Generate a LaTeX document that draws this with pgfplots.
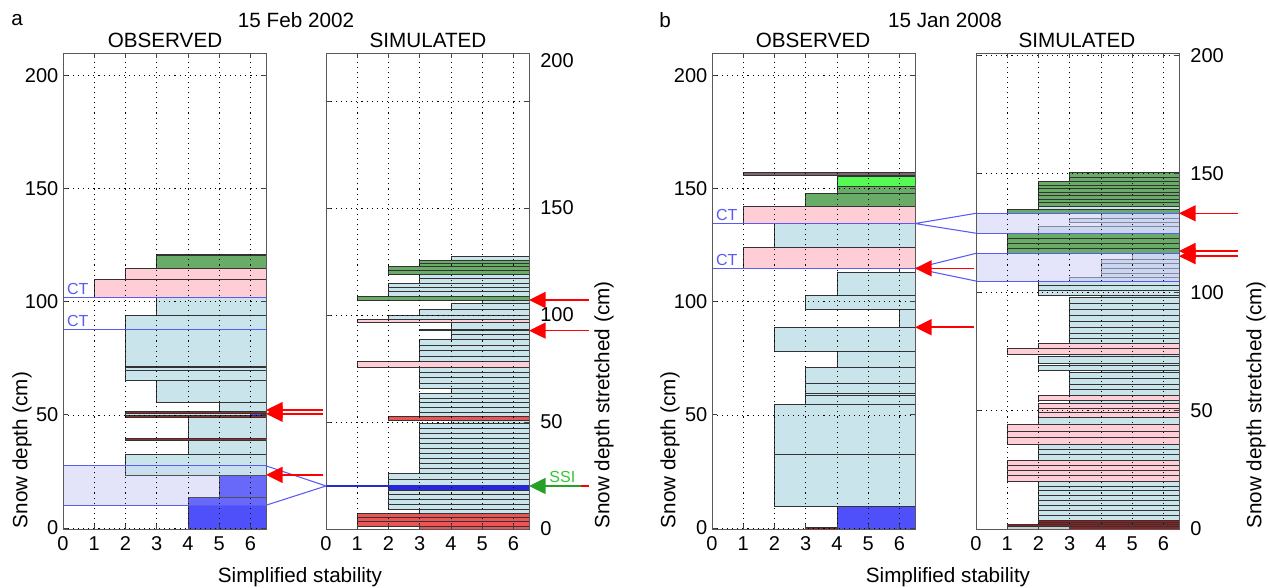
\documentclass[border=0pt]{standalone}
\usepackage{fontspec}
\setmainfont{Liberation Sans}
\usepackage{pgfplots}
\pgfplotsset{compat=1.18}
\usetikzlibrary{arrows.meta}

\definecolor{lb}{RGB}{201,228,235}
\definecolor{pk}{RGB}{255,205,214}
\definecolor{gr}{RGB}{104,172,104}
\definecolor{bg}{RGB}{85,250,85}
\definecolor{bl}{RGB}{80,80,250}
\definecolor{sb}{RGB}{40,40,215}
\definecolor{dkr}{RGB}{150,45,45}
\definecolor{rd}{RGB}{235,85,85}
\definecolor{dr}{RGB}{150,30,30}
\definecolor{brn}{RGB}{125,105,105}
\definecolor{ct}{RGB}{90,90,245}
\definecolor{zone}{RGB}{205,205,245}
\definecolor{ssi}{RGB}{50,200,50}

% one snow layer: colour, stability, bottom, top
\newcommand\lay[4]{\addplot[draw=black!80, line width=0.45pt, fill=#1] coordinates {(#2,#3) (6.5,#3) (6.5,#4) (#2,#4)} -- cycle;}
\newcommand\zone[3][0.55]{\addplot[draw=none, fill=zone, fill opacity=#1] coordinates {(0,#2) (6.5,#2) (6.5,#3) (0,#3)} -- cycle;}
\newcommand\hl[1]{\addplot[ct, line width=0.8pt] coordinates {(0,#1) (6.5,#1)};}

\pgfplotsset{
  prof/.style={
    scale only axis, width=152.25pt, height=357pt, anchor=south west,
    xmin=0, xmax=6.5, xtick={0,1,...,6},
    grid=major,
    major grid style={black, line width=0.5pt, dash pattern=on 0.8pt off 3pt},
    tick align=inside, major tick length=3.5pt,
    axis line style={black!65, line width=0.7pt},
    tick style={black!75, line width=0.6pt},
    axis on top,
    tick label style={font=\fontsize{15}{18}\selectfont},
    /pgf/number format/assume math mode=true,
    xticklabel style={yshift=-2pt},
  },
  obs/.style={prof, ymin=-0.4, ymax=209.8, ytick={0,50,...,200}},
  sim/.style={prof, ymin=0, yticklabel pos=right, yticklabel style={xshift=5pt}},
}

\begin{document}
\begin{tikzpicture}
\begin{scope}[x=0.75pt,y=0.75pt]
\useasboundingbox (0,0) rectangle (1268,587);
\end{scope}

% ---------------- a, observed
\begin{axis}[obs, at={(47.25pt,43.5pt)}]
\zone[0.45]{10.1}{27.5}
\lay{bl}{4}{-0.4}{13.7}
\lay{bl}{5}{13.7}{23.4}
\lay{lb}{2}{23.4}{32.8}
\lay{lb}{4}{32.8}{38.6}
\lay{dkr}{2}{38.6}{39.8}
\lay{lb}{4}{39.8}{49.0}
\lay{dkr}{2}{49.0}{49.8}
\lay{lb}{2}{49.8}{50.8}
\lay{bl}{6}{49.9}{50.7}
\lay{dkr}{2}{50.8}{51.7}
\lay{lb}{5}{51.7}{55.6}
\lay{lb}{3}{55.6}{65.1}
\lay{lb}{2}{65.1}{69.9}
\lay{lb}{2}{69.9}{70.8}
\lay{lb}{2}{70.8}{71.6}
\lay{lb}{2}{71.6}{94.1}
\lay{lb}{3}{94.1}{101.8}
\lay{pk}{1}{101.8}{109.9}
\lay{pk}{2}{109.9}{114.9}
\lay{gr}{3}{114.9}{120.5}
\lay{black!70}{3}{120.5}{121.0}
\zone[0.2]{10.1}{27.5}
\hl{10.1}
\hl{27.5}
\hl{101.8}
\hl{87.8}
\node[ct, anchor=south west, inner sep=1pt, font=\fontsize{12}{14}\selectfont] at (axis cs:0.08,102.2) {CT};
\node[ct, anchor=south west, inner sep=1pt, font=\fontsize{12}{14}\selectfont] at (axis cs:0.08,88.2) {CT};
\coordinate (az1) at (axis cs:6.5,27.5);
\coordinate (az2) at (axis cs:6.5,10.1);
\coordinate (aar1) at (axis cs:6.5,51.3);
\coordinate (aar2) at (axis cs:6.5,23.5);
\end{axis}

% ---------------- a, simulated
\begin{axis}[sim, at={(244.5pt,43.5pt)}, ymax=222.4, ytick={0,50,...,200},
  yticklabels={0,50,100,150,{}},
  extra y ticks={219}, extra y tick labels={200},
  extra y tick style={grid=none, major tick length=0pt}]
\lay{rd}{3}{0}{1.4}
\lay{rd}{1}{1.4}{3.4}
\lay{rd}{1}{3.4}{5.5}
\lay{rd}{1}{5.5}{7.3}
\lay{lb}{3}{7.3}{9.2}
\lay{lb}{2}{9.2}{11.5}
\lay{lb}{2}{11.5}{13.8}
\lay{lb}{2}{13.8}{16.0}
\lay{lb}{2}{16.0}{18.2}
\lay{sb}{2}{18.2}{20.6}
\lay{lb}{2}{20.6}{23.3}
\lay{lb}{2}{23.3}{26.0}
\lay{lb}{3}{26.0}{28.3}
\lay{lb}{3}{28.3}{30.6}
\lay{lb}{3}{30.6}{33.0}
\lay{lb}{3}{33.0}{35.3}
\lay{lb}{3}{35.3}{37.6}
\lay{lb}{3}{37.6}{40.0}
\lay{lb}{3}{40.0}{42.3}
\lay{lb}{3}{42.3}{44.6}
\lay{lb}{3}{44.6}{47.0}
\lay{lb}{3}{47.0}{49.4}
\lay{lb}{4}{49.4}{50.9}
\lay{rd}{2}{50.9}{52.5}
\lay{lb}{3}{52.5}{54.7}
\lay{lb}{3}{54.7}{56.9}
\lay{lb}{3}{56.9}{59.1}
\lay{lb}{3}{59.1}{61.2}
\lay{lb}{3}{61.2}{63.4}
\lay{lb}{4}{63.4}{65.7}
\lay{lb}{3}{65.7}{68.2}
\lay{lb}{3}{68.2}{70.7}
\lay{lb}{3}{70.7}{73.1}
\lay{lb}{3}{73.1}{75.6}
\lay{pk}{1}{75.6}{78.2}
\lay{lb}{3}{78.2}{80.8}
\lay{lb}{3}{80.8}{83.4}
\lay{lb}{3}{83.4}{86.0}
\lay{lb}{3}{86.0}{88.6}
\lay{lb}{4}{88.6}{90.8}
\lay{lb}{4}{90.8}{93.0}
\lay{lb}{3}{93.0}{93.5}
\lay{lb}{4}{93.5}{96.4}
\lay{pk}{1}{96.4}{98.0}
\lay{lb}{2}{98.0}{100.0}
\lay{lb}{3}{100.0}{102.7}
\lay{lb}{4}{102.7}{105.5}
\lay{lb}{5}{105.5}{106.7}
\lay{gr}{1}{106.7}{108.9}
\lay{lb}{2}{108.9}{110.9}
\lay{lb}{2}{110.9}{112.9}
\lay{lb}{2}{112.9}{114.8}
\lay{lb}{3}{114.8}{117.0}
\lay{lb}{3}{117.0}{119.2}
\lay{gr}{2}{119.2}{120.9}
\lay{gr}{2}{120.9}{122.6}
\lay{gr}{3}{122.6}{124.0}
\lay{gr}{3}{124.0}{125.4}
\lay{lb}{4}{125.4}{127.6}
\coordinate (asz) at (axis cs:0,20.1);
\coordinate (asssi) at (axis cs:6.5,20.1);
\coordinate (asar1) at (axis cs:6.5,107.0);
\coordinate (asar2) at (axis cs:6.5,92.7);
\end{axis}

% ---------------- b, observed
\begin{axis}[obs, at={(534pt,43.5pt)}]
\lay{dr}{3}{-0.4}{0.3}
\lay{bl}{4}{-0.4}{9.7}
\lay{lb}{2}{9.7}{32.8}
\lay{lb}{2}{32.8}{54.8}
\lay{lb}{3}{54.8}{58.5}
\lay{lb}{3}{58.5}{59.5}
\lay{lb}{3}{59.5}{64.0}
\lay{lb}{3}{64.0}{71.0}
\lay{lb}{4}{71.0}{77.9}
\lay{lb}{2}{77.9}{88.7}
\lay{lb}{6}{88.7}{96.7}
\lay{lb}{3}{96.7}{103.0}
\lay{lb}{4}{103.0}{112.9}
\lay{white}{6}{112.9}{114.7}
\lay{pk}{1}{114.7}{124.0}
\lay{lb}{2}{124.0}{134.5}
\lay{pk}{1}{134.5}{142.0}
\lay{gr}{3}{142.0}{147.9}
\lay{gr}{4}{147.9}{150.9}
\lay{bg}{4}{150.9}{155.5}
\lay{brn}{1}{156.0}{157.0}
\hl{134.5}
\hl{114.7}
\node[ct, anchor=south west, inner sep=1pt, font=\fontsize{12}{14}\selectfont] at (axis cs:0.08,135.0) {CT};
\node[ct, anchor=south west, inner sep=1pt, font=\fontsize{12}{14}\selectfont] at (axis cs:0.08,115.2) {CT};
\coordinate (bct1) at (axis cs:6.5,134.5);
\coordinate (bct2) at (axis cs:6.5,114.7);
\coordinate (bar2) at (axis cs:6.5,88.7);
\end{axis}

% ---------------- b, simulated
\begin{axis}[sim, at={(732pt,43.5pt)}, ymax=201, ytick={0,50,...,200}]
\lay{gray!40}{1}{0}{1.0}
\lay{dr}{3}{0}{1.0}
\lay{dr}{1}{1.0}{1.8}
\lay{dr}{2}{1.8}{2.7}
\lay{dr}{2}{2.7}{3.7}
\lay{lb}{2}{3.7}{5.8}
\lay{lb}{2}{5.8}{7.9}
\lay{lb}{2}{7.9}{10.0}
\lay{lb}{2}{10.0}{12.0}
\lay{lb}{2}{12.0}{14.1}
\lay{lb}{2}{14.1}{16.2}
\lay{lb}{2}{16.2}{18.2}
\lay{lb}{2}{18.2}{20.3}
\lay{pk}{1}{20.3}{22.5}
\lay{pk}{1}{22.5}{24.7}
\lay{pk}{1}{24.7}{27.0}
\lay{pk}{1}{27.0}{29.2}
\lay{lb}{2}{29.2}{31.4}
\lay{lb}{2}{31.4}{33.7}
\lay{lb}{2}{33.7}{35.9}
\lay{pk}{1}{35.9}{38.6}
\lay{pk}{1}{38.6}{41.4}
\lay{pk}{1}{41.4}{44.1}
\lay{lb}{2}{44.1}{47.2}
\lay{pk}{2}{47.2}{49.2}
\lay{pk}{2}{49.2}{51.1}
\lay{pk}{2}{51.1}{53.1}
\lay{lb}{3}{53.1}{54.5}
\lay{pk}{2}{54.5}{56.4}
\lay{lb}{3}{56.4}{58.9}
\lay{lb}{3}{58.9}{61.3}
\lay{lb}{3}{61.3}{63.8}
\lay{lb}{3}{63.8}{66.2}
\lay{lb}{4}{66.2}{67.2}
\lay{lb}{2}{67.2}{69.1}
\lay{lb}{3}{69.1}{69.8}
\lay{lb}{2}{69.8}{72.9}
\lay{lb}{3}{72.9}{73.7}
\lay{pk}{1}{73.7}{76.1}
\lay{pk}{2}{76.1}{78.3}
\lay{lb}{3}{78.3}{80.4}
\lay{lb}{3}{80.4}{82.5}
\lay{lb}{3}{82.5}{85.0}
\lay{lb}{3}{85.0}{87.6}
\lay{lb}{3}{87.6}{90.1}
\lay{lb}{3}{90.1}{92.7}
\lay{lb}{3}{92.7}{95.2}
\lay{lb}{3}{95.2}{97.8}
\lay{lb}{4}{97.8}{98.7}
\lay{lb}{2}{98.7}{100.7}
\lay{lb}{2}{100.7}{102.7}
\lay{lb}{2}{102.7}{104.7}
\lay{lb}{3}{104.7}{106.1}
\lay{lb}{4}{106.1}{108.0}
\lay{lb}{4}{108.0}{110.0}
\lay{lb}{4}{110.0}{112.0}
\lay{lb}{4}{112.0}{113.9}
\lay{lb}{5}{113.9}{116.4}
\lay{gr}{1}{116.4}{118.5}
\lay{gr}{1}{118.5}{120.6}
\lay{gr}{1}{120.6}{122.8}
\lay{gr}{1}{122.8}{124.9}
\lay{lb}{2}{124.9}{127.7}
\lay{lb}{4}{127.7}{129.4}
\lay{lb}{3}{129.4}{131.2}
\lay{lb}{4}{131.2}{133.3}
\lay{gr}{1}{133.3}{135.0}
\lay{lb}{2}{135.0}{136.4}
\lay{gr}{2}{136.4}{137.9}
\lay{gr}{2}{137.9}{139.4}
\lay{gr}{2}{139.4}{140.8}
\lay{gr}{2}{140.8}{142.3}
\lay{gr}{2}{142.3}{143.8}
\lay{gr}{2}{143.8}{145.2}
\lay{gr}{2}{145.2}{146.7}
\lay{gr}{3}{146.7}{148.6}
\lay{gr}{3}{148.6}{150.6}
\zone{104.7}{116.4}
\zone{124.9}{133.3}
\hl{104.7}
\hl{116.4}
\hl{124.9}
\hl{133.3}
\coordinate (bsz1a) at (axis cs:0,133.3);
\coordinate (bsz1b) at (axis cs:0,124.9);
\coordinate (bsz2a) at (axis cs:0,116.4);
\coordinate (bsz2b) at (axis cs:0,104.7);
\coordinate (bsar1) at (axis cs:6.5,133.3);
\coordinate (bsar2a) at (axis cs:6.5,117.4);
\coordinate (bsar2b) at (axis cs:6.5,115.2);
\end{axis}

% ---------------- links and arrows
\draw[ct, line width=0.8pt] (az1) -- (asz) -- (az2);
\draw[sb, line width=0.8pt] (asz) -- (asssi);
\draw[ct, line width=0.8pt] (bct1) -- (bsz1a) (bct1) -- (bsz1b);
\draw[ct, line width=0.8pt] (bct2) -- (bsz2a) (bct2) -- (bsz2b);

\tikzset{rar/.style={red, line width=1.2pt, -{Triangle[length=12.5pt,width=12pt]}}}
\draw[rar] ([xshift=43pt,yshift=1.4pt]aar1) -- ([yshift=1.4pt]aar1);
\draw[rar] ([xshift=43pt,yshift=-1.4pt]aar1) -- ([yshift=-1.4pt]aar1);
\draw[rar] ([xshift=43pt]aar2) -- (aar2);
\draw[rar] ([xshift=45pt]asar1) -- (asar1);
\draw[rar] ([xshift=45pt]asar2) -- (asar2);
\draw[red, line width=1.2pt] ([xshift=45pt]asssi) -- ([xshift=39pt]asssi);
\draw[ssi!80!black, line width=1.2pt, -{Triangle[length=12.5pt,width=12pt]}] ([xshift=39pt]asssi) -- (asssi);
\node[ssi, font=\fontsize{12}{14}\selectfont] at ([xshift=25pt,yshift=7pt]asssi) {SSI};
\draw[rar] ([xshift=44pt]bct2) -- (bct2);
\draw[rar] ([xshift=44pt]bar2) -- (bar2);
\draw[rar] ([xshift=44pt]bsar1) -- (bsar1);
\draw[rar] ([xshift=44pt]bsar2a) -- (bsar2a);
\draw[rar] ([xshift=44pt]bsar2b) -- (bsar2b);

% ---------------- text
\begin{scope}[x=0.75pt,y=0.75pt]
\tikzset{tx/.style={font=\fontsize{15.5}{18}\selectfont, inner sep=0pt}}
\node[tx] at (17,567) {a};
\node[tx] at (296,567) {15 Feb 2002};
\node[tx] at (165,547) {OBSERVED};
\node[tx] at (428,547) {SIMULATED};
\node[tx] at (665,567) {b};
\node[tx] at (945,567) {15 Jan 2008};
\node[tx] at (813,547) {OBSERVED};
\node[tx] at (1077,547) {SIMULATED};
\node[tx] at (300,10) {Simplified stability};
\node[tx] at (948,10) {Simplified stability};
\node[tx, rotate=90] at (22,137) {Snow depth (cm)};
\node[tx, rotate=90] at (670,137) {Snow depth (cm)};
\node[tx, rotate=90] at (604,182) {Snow depth stretched (cm)};
\node[tx, rotate=90] at (1256,182) {Snow depth stretched (cm)};
\end{scope}
\end{tikzpicture}
\end{document}
